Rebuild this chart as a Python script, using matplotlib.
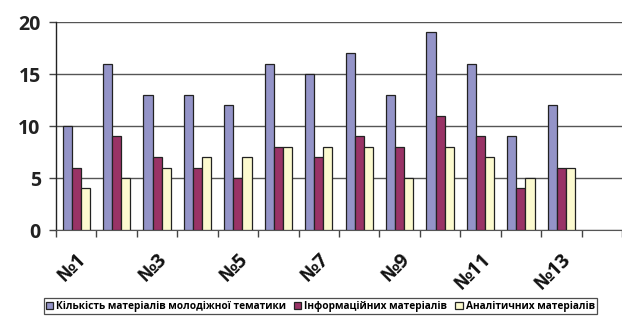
import matplotlib
matplotlib.use("Agg")
import matplotlib.pyplot as plt
import numpy as np

categories = ["№1", "№2", "№3", "№4", "№5", "№6", "№7", "№8", "№9", "№10", "№11", "№12", "№13", "№14"]
series_names = ["Кількість матеріалів молодіжної тематики", "Інформаційних матеріалів", "Аналітичних матеріалів"]
youth = [10, 16, 13, 13, 12, 16, 15, 17, 13, 19, 16, 9, 12]
info = [6, 9, 7, 6, 5, 8, 7, 9, 8, 11, 9, 4, 6]
analytic = [4, 5, 6, 7, 7, 8, 8, 8, 5, 8, 7, 5, 6]
colors = ["#9494C8", "#993366", "#FCFACF"]

plt.rcParams['font.family'] = ['Open Sans', 'DejaVu Sans']

fig = plt.figure(figsize=(6.22, 3.18), dpi=100)
ax = fig.add_axes([56/622, 1-230/318, 1-56/622, (230-22)/318])

n = len(categories)
w = 0.225
x = np.arange(len(youth))
for i, (vals, c, name) in enumerate(zip([youth, info, analytic], colors, series_names)):
    ax.bar(x + (i - 1) * w, vals, width=w, color=c, edgecolor="#222222", linewidth=0.9, label=name, zorder=3)

ax.set_xlim(-0.5, n - 0.5)
ax.set_ylim(0, 20)
ax.set_yticks([0, 5, 10, 15, 20])
ax.yaxis.grid(True, color="#555555", linewidth=1.0, zorder=0)
ax.set_axisbelow(True)
for s in ["top", "right"]:
    ax.spines[s].set_visible(False)
ax.spines["left"].set_color("#222222")
ax.spines["bottom"].set_color("#555555")
ax.spines["left"].set_linewidth(1.0)
ax.tick_params(axis="y", length=5, width=1, color="#444444", labelsize=14, pad=6)
for lbl in ax.get_yticklabels():
    lbl.set_fontweight("bold")
    lbl.set_color("#222222")

# category boundary ticks
ax.set_xticks(np.arange(n + 1) - 0.5, minor=True)
ax.tick_params(axis="x", which="minor", length=5, width=1, color="#444444")
ax.set_xticks(np.arange(0, n, 2))
ax.set_xticklabels([categories[i] for i in range(0, n, 2)], rotation=45, ha="right",
                   rotation_mode="anchor", fontsize=14, fontweight="bold", color="#111111")
ax.tick_params(axis="x", which="major", length=0, pad=14)

leg = fig.legend(loc="lower center", bbox_to_anchor=(0.515, 0.005), ncol=3, fontsize=7.3,
                 prop={"weight": "bold", "size": 7.3}, frameon=True, fancybox=False,
                 edgecolor="#222222", handlelength=0.7, handleheight=0.7, handletextpad=0.3,
                 columnspacing=0.8, borderpad=0.25, borderaxespad=0.2)
leg.get_frame().set_linewidth(0.9)

fig.savefig("out.png", dpi=100)
